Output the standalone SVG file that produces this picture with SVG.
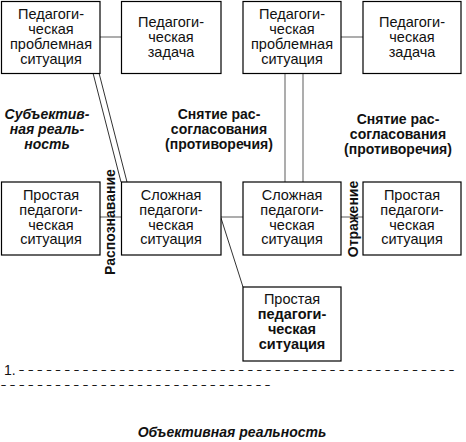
<svg xmlns="http://www.w3.org/2000/svg" width="466" height="442" viewBox="0 0 466 442">
<style>
.box{fill:#fff;stroke:#000;stroke-width:1.2}
.t{font-family:"Liberation Sans",Arial,sans-serif;font-size:14.5px;fill:#111;text-anchor:middle}
.b{font-weight:bold}
.bi{font-family:"Liberation Sans",Arial,sans-serif;font-size:14px;font-weight:bold;font-style:italic;fill:#111;text-anchor:middle}
.lbl{font-family:"Liberation Sans",Arial,sans-serif;font-size:14px;font-weight:bold;fill:#111;text-anchor:middle}
.c{stroke:#999;stroke-width:1.6;fill:none}
.d{stroke:#333;stroke-width:1;fill:none}
.num{font-family:"Liberation Sans",Arial,sans-serif;font-size:14px;fill:#111}
.dash{font-family:"Liberation Sans",Arial,sans-serif;font-size:9px;font-weight:bold;fill:#111}
</style>
<rect width="466" height="442" fill="#fff"/>
<g id="connectors">
<line class="c" x1="100" y1="37" x2="121" y2="37"/>
<line class="c" x1="341" y1="37" x2="363" y2="37"/>
<line class="c" x1="285" y1="73" x2="285" y2="182"/>
<line class="c" x1="303" y1="73" x2="303" y2="182"/>
<line class="c" x1="100" y1="217" x2="121" y2="217"/>
<line class="c" x1="221" y1="217" x2="243" y2="217"/>
<line class="c" x1="341" y1="217" x2="363" y2="217"/>
<line class="d" x1="93" y1="73" x2="121" y2="182"/>
<line class="d" x1="99" y1="73" x2="127" y2="182"/>
<line class="d" x1="221" y1="218" x2="243" y2="287"/>
</g>
<g id="n1"><rect class="box" x="1.5" y="1.5" width="98.5" height="72"/>
<text class="t" x="51" y="19">Педагоги-</text><text class="t" x="51" y="34">ческая</text><text class="t" x="51" y="49">проблемная</text><text class="t" x="51" y="64">ситуация</text></g>
<g id="n2"><rect class="box" x="121.5" y="1.5" width="99.5" height="72"/>
<text class="t" x="171" y="27">Педагоги-</text><text class="t" x="171" y="42">ческая</text><text class="t" x="171" y="57">задача</text></g>
<g id="n3"><rect class="box" x="243" y="1.5" width="98" height="72"/>
<text class="t" x="292" y="19">Педагоги-</text><text class="t" x="292" y="34">ческая</text><text class="t" x="292" y="49">проблемная</text><text class="t" x="292" y="64">ситуация</text></g>
<g id="n4"><rect class="box" x="363" y="1.5" width="98" height="72"/>
<text class="t" x="412" y="27">Педагоги-</text><text class="t" x="412" y="42">ческая</text><text class="t" x="412" y="57">задача</text></g>
<g id="n5"><rect class="box" x="1.5" y="182" width="98.5" height="73"/>
<text class="t" x="51" y="200">Простая</text><text class="t" x="51" y="215">педагоги-</text><text class="t" x="51" y="229.5">ческая</text><text class="t" x="51" y="244">ситуация</text></g>
<g id="n6"><rect class="box" x="121.5" y="182" width="99.5" height="73"/>
<text class="t" x="171" y="200">Сложная</text><text class="t" x="171" y="215">педагоги-</text><text class="t" x="171" y="229.5">ческая</text><text class="t" x="171" y="244">ситуация</text></g>
<g id="n7"><rect class="box" x="243" y="182" width="98" height="73"/>
<text class="t" x="292" y="200">Сложная</text><text class="t" x="292" y="215">педагоги-</text><text class="t" x="292" y="229.5">ческая</text><text class="t" x="292" y="244">ситуация</text></g>
<g id="n8"><rect class="box" x="363" y="182" width="98" height="73"/>
<text class="t" x="412" y="200">Простая</text><text class="t" x="412" y="215">педагоги-</text><text class="t" x="412" y="229.5">ческая</text><text class="t" x="412" y="244">ситуация</text></g>
<g id="n9"><rect class="box" x="243" y="287" width="98" height="74"/>
<text class="t" x="292" y="304">Простая</text><text class="t b" x="292" y="319">педагоги-</text><text class="t b" x="292" y="334">ческая</text><text class="t b" x="292" y="348.5">ситуация</text></g>
<g id="labels">
<text class="bi" x="47" y="119">Субъектив-</text><text class="bi" x="47" y="134">ная реаль-</text><text class="bi" x="47" y="149">ность</text>
<text class="lbl" x="219" y="119">Снятие рас-</text><text class="lbl" x="219" y="134">согласования</text><text class="lbl" x="219" y="149">(противоречия)</text>
<text class="lbl" x="398" y="124">Снятие рас-</text><text class="lbl" x="398" y="139">согласования</text><text class="lbl" x="398" y="154">(противоречия)</text>
<text class="lbl" transform="translate(115,222) rotate(-90)">Распознавание</text>
<text class="lbl" transform="translate(358,219) rotate(-90)">Отражение</text>
<text class="num" x="4" y="375">1.</text>
<text class="dash" x="19" y="373" textLength="435" lengthAdjust="spacing">– – – – – – – – – – – – – – – – – – – – – – – – – – – – – – – – – – – – – – – – – – – – – – – –</text>
<text class="dash" x="1" y="388" textLength="269" lengthAdjust="spacing">– – – – – – – – – – – – – – – – – – – – – – – – – – – – – –</text>
<text class="bi" x="232" y="437">Объективная реальность</text>
</g>
</svg>
